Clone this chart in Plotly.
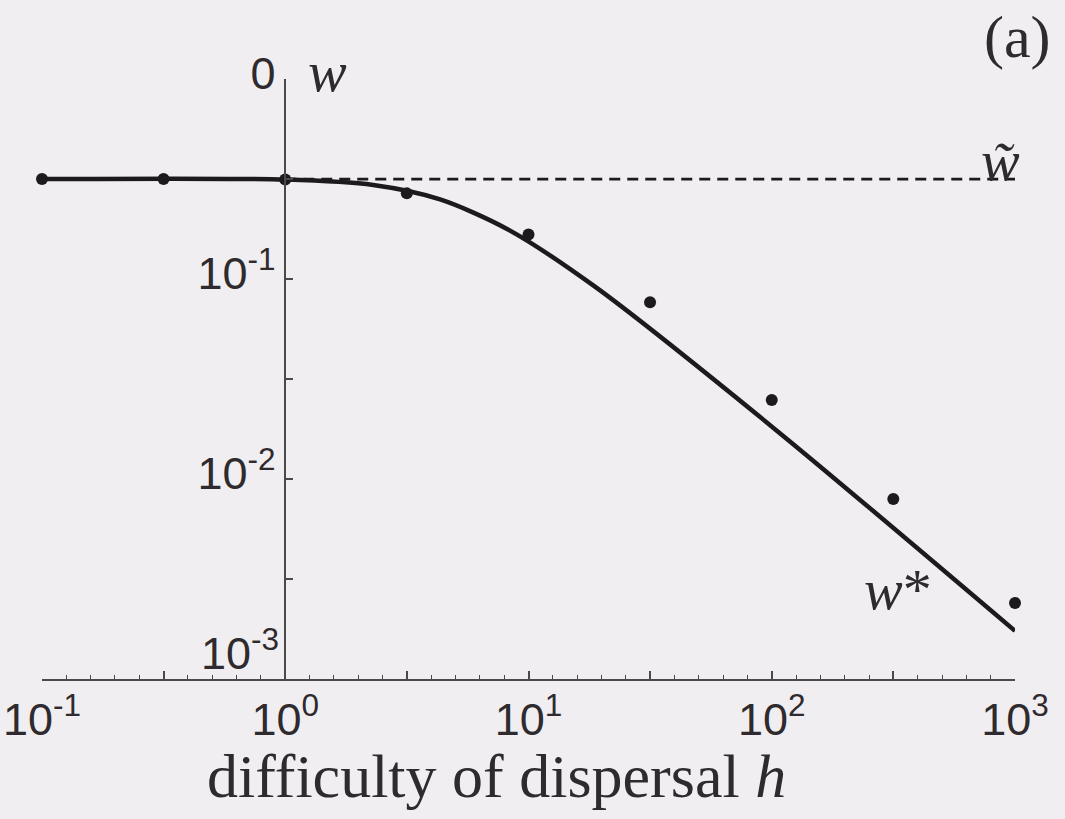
import plotly.graph_objects as go

# Model curve w*(h)
curve_h = [0.1, 1.0, 2.3, 4.33, 8.16, 18.7, 104.0, 1000.0]
curve_w = [0.316, 0.314, 0.295, 0.250, 0.178, 0.0918, 0.0176, 0.00174]

# Simulation results (dots)
sim_h = [0.1, 0.316, 1.0, 3.16, 10.0, 31.6, 100.0, 316.0, 1000.0]
sim_w = [0.316, 0.316, 0.314, 0.268, 0.167, 0.0766, 0.0248, 0.00794, 0.0024]

# Upper bound w~ (dashed)
wtilde_h = [1.0, 1000.0]
wtilde_w = [0.316, 0.316]

# Axis ticks
x_major = [0.1, 0.316, 1, 3.16, 10, 31.6, 100, 316, 1000]
x_major_text = ["10<sup>-1</sup>", "", "10<sup>0</sup>", "", "10<sup>1</sup>", "",
                "10<sup>2</sup>", "", "10<sup>3</sup>"]
x_minor = [10 ** (k / 10) for k in range(-10, 31) if k % 5 != 0]
y_major = [0.001, 0.00316, 0.01, 0.0316, 0.1, 0.316, 1]
y_major_text = ["", "", "10<sup>-2</sup>", "", "10<sup>-1</sup>", "", "0"]

INK = "#1c1a1c"
AXIS = "#4a4a4a"
TEXT = "#2e2a2d"
BG = "#f0eef0"
SANS = "Liberation Sans, Arial, sans-serif"
SERIF = "Liberation Serif, Times New Roman, serif"
TICK_SIZE = 45

fig = go.Figure()

fig.add_trace(go.Scatter(
    x=wtilde_h, y=wtilde_w, mode="lines",
    line=dict(color=INK, width=2.8, dash="11px,7px"),
    hoverinfo="skip", showlegend=False,
))
fig.add_trace(go.Scatter(
    x=curve_h, y=curve_w, mode="lines",
    line=dict(color=INK, width=4.5, shape="spline", smoothing=0.8),
    showlegend=False,
))
fig.add_trace(go.Scatter(
    x=sim_h, y=sim_w, mode="markers",
    marker=dict(color=INK, size=12),
    cliponaxis=False, showlegend=False,
))

fig.update_layout(
    width=1065, height=819,
    margin=dict(l=42, r=50, t=79, b=140),
    paper_bgcolor=BG, plot_bgcolor=BG,
    font=dict(family=SANS, color=TEXT, size=TICK_SIZE),
    xaxis=dict(
        type="log", range=[-1, 3], automargin=False,
        showgrid=False, zeroline=False,
        showline=True, linecolor=AXIS, linewidth=1.5,
        ticks="inside", ticklen=8, tickwidth=1.5, tickcolor=AXIS,
        tickmode="array", tickvals=x_major, ticktext=x_major_text,
        tickfont=dict(family=SANS, size=TICK_SIZE, color=TEXT),
        minor=dict(tickmode="array", tickvals=x_minor, ticks="inside",
                   ticklen=4, tickwidth=1.2, tickcolor=AXIS, showgrid=False),
    ),
    yaxis=dict(
        type="log", range=[-3, 0], automargin=False,
        anchor="free", position=0.25,
        showgrid=False, zeroline=False,
        showline=True, linecolor=AXIS, linewidth=1.5,
        ticks="inside", ticklen=7, tickwidth=1.5, tickcolor=AXIS,
        tickmode="array", tickvals=y_major, ticktext=y_major_text,
        tickfont=dict(family=SANS, size=TICK_SIZE, color=TEXT),
        ticklabelshift=-6,
    ),
)

annotations = [
    dict(text="10<sup>-3</sup>", x=0.25, y=0.048, xanchor="right", yanchor="middle",
         xshift=-4, font=dict(family=SANS, size=TICK_SIZE, color=TEXT)),
    dict(text="<i>w</i>", x=0.293, y=1.012, xanchor="center", yanchor="middle",
         font=dict(family=SERIF, size=58, color=TEXT)),
    dict(text="<i>w\u0303</i>", x=0.985, y=0.865, xanchor="center", yanchor="middle",
         font=dict(family=SERIF, size=58, color=TEXT)),
    dict(text="<i>w</i>*", x=0.880, y=0.15, xanchor="center", yanchor="middle",
         font=dict(family=SERIF, size=58, color=TEXT)),
    dict(text="(a)", x=1.003, y=1.07, xanchor="center", yanchor="middle",
         font=dict(family=SERIF, size=60, color=TEXT)),
    dict(text="difficulty of dispersal <i>h</i>", x=0.467, y=-0.162,
         xanchor="center", yanchor="middle",
         font=dict(family=SERIF, size=62, color=TEXT)),
]
for a in annotations:
    a.update(xref="paper", yref="paper", showarrow=False)
fig.update_layout(annotations=annotations)

fig.write_html("out.html")
